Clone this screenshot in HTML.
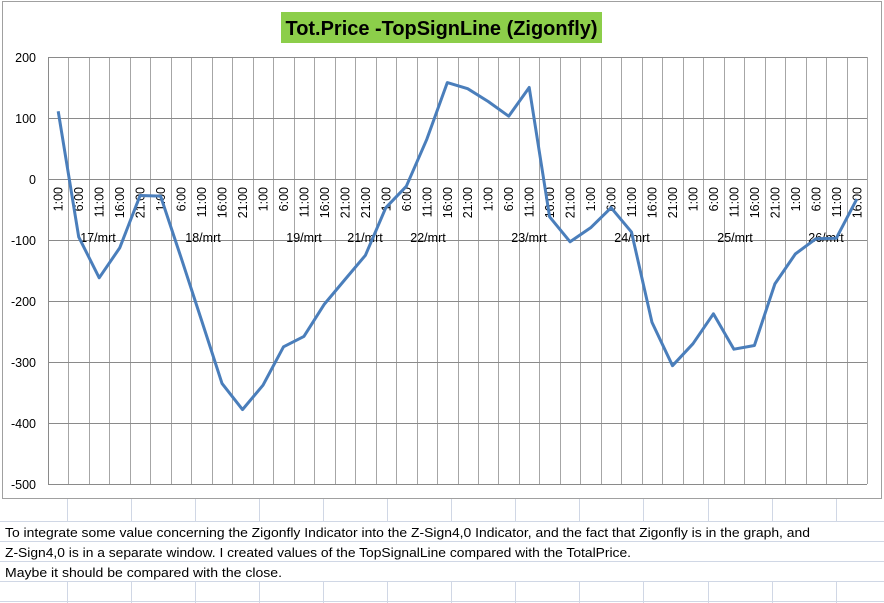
<!DOCTYPE html>
<html><head><meta charset="utf-8"><style>
html,body{margin:0;padding:0;background:#fff;}
svg{display:block;font-family:"Liberation Sans",sans-serif;}
</style></head><body>
<svg width="884" height="603" viewBox="0 0 884 603" xmlns="http://www.w3.org/2000/svg">
<g stroke="#d0d7e5" stroke-width="1">
<line x1="0" y1="521.5" x2="884" y2="521.5"/><line x1="0" y1="541.5" x2="884" y2="541.5"/>
<line x1="0" y1="561.5" x2="884" y2="561.5"/><line x1="0" y1="581.5" x2="884" y2="581.5"/>
<line x1="0" y1="601.5" x2="884" y2="601.5"/>
<line x1="67.5" y1="499" x2="67.5" y2="521"/><line x1="131.5" y1="499" x2="131.5" y2="521"/><line x1="195.5" y1="499" x2="195.5" y2="521"/><line x1="259.5" y1="499" x2="259.5" y2="521"/><line x1="323.5" y1="499" x2="323.5" y2="521"/><line x1="387.5" y1="499" x2="387.5" y2="521"/><line x1="451.5" y1="499" x2="451.5" y2="521"/><line x1="515.5" y1="499" x2="515.5" y2="521"/><line x1="579.5" y1="499" x2="579.5" y2="521"/><line x1="643.5" y1="499" x2="643.5" y2="521"/><line x1="708.5" y1="499" x2="708.5" y2="521"/><line x1="772.5" y1="499" x2="772.5" y2="521"/><line x1="836.5" y1="499" x2="836.5" y2="521"/>
<line x1="836.5" y1="581" x2="836.5" y2="603"/><line x1="772.5" y1="581" x2="772.5" y2="603"/><line x1="67.5" y1="581" x2="67.5" y2="603"/><line x1="131.5" y1="581" x2="131.5" y2="603"/><line x1="195.5" y1="581" x2="195.5" y2="603"/><line x1="259.5" y1="581" x2="259.5" y2="603"/><line x1="323.5" y1="581" x2="323.5" y2="603"/><line x1="387.5" y1="581" x2="387.5" y2="603"/><line x1="451.5" y1="581" x2="451.5" y2="603"/><line x1="515.5" y1="581" x2="515.5" y2="603"/><line x1="579.5" y1="581" x2="579.5" y2="603"/><line x1="643.5" y1="581" x2="643.5" y2="603"/><line x1="708.5" y1="581" x2="708.5" y2="603"/>
</g>
<rect x="2.5" y="1.5" width="879" height="497" fill="#fff" stroke="#a0a0a0"/>
<rect x="281" y="12" width="321" height="31" fill="#8cce4a"/>
<text x="285.5" y="35" font-size="20" font-weight="bold" fill="#000" textLength="312" lengthAdjust="spacingAndGlyphs">Tot.Price -TopSignLine (Zigonfly)</text>
<g id="vg" stroke="#a6a6a6" stroke-width="1"></g>
<g stroke="#8a8a8a" stroke-width="1">
<line x1="48" y1="57.5" x2="867" y2="57.5"/><line x1="48" y1="118.5" x2="867" y2="118.5"/>
<line x1="48" y1="179.5" x2="867" y2="179.5"/><line x1="48" y1="240.5" x2="867" y2="240.5"/>
<line x1="48" y1="301.5" x2="867" y2="301.5"/><line x1="48" y1="362.5" x2="867" y2="362.5"/>
<line x1="48" y1="423.5" x2="867" y2="423.5"/><line x1="48" y1="484.5" x2="867" y2="484.5"/>
<line x1="48.5" y1="57" x2="48.5" y2="484"/>
</g>
<g font-size="12.5" text-anchor="end" fill="#000">
<text x="36" y="62">200</text><text x="36" y="123">100</text><text x="36" y="184">0</text>
<text x="36" y="245">-100</text><text x="36" y="306">-200</text><text x="36" y="367">-300</text>
<text x="36" y="428">-400</text><text x="36" y="489">-500</text>
</g>
<g id="cl" font-size="12.5" fill="#000"></g>
<g font-size="12.5" fill="#000" text-anchor="middle">
<text x="98" y="242">17/mrt</text><text x="203" y="242">18/mrt</text><text x="304" y="242">19/mrt</text>
<text x="365" y="242">21/mrt</text><text x="428" y="242">22/mrt</text><text x="529" y="242">23/mrt</text>
<text x="632" y="242">24/mrt</text><text x="735" y="242">25/mrt</text><text x="826" y="242">26/mrt</text>
</g>
<polyline id="ln" fill="none" stroke="#4a7ebb" stroke-width="3" stroke-linejoin="round"/>
<g font-size="13" fill="#000">
<text x="5" y="537" textLength="805" lengthAdjust="spacingAndGlyphs">To integrate some value concerning the Zigonfly Indicator into the Z-Sign4,0 Indicator, and the fact that Zigonfly is in the graph, and</text>
<text x="5" y="557" textLength="626" lengthAdjust="spacingAndGlyphs">Z-Sign4,0 is in a separate window. I created values of the TopSignalLine compared with the TotalPrice.</text>
<text x="5" y="577" textLength="277" lengthAdjust="spacingAndGlyphs">Maybe it should be compared with the close.</text>
</g>
<script>
(function(){
var ns="http://www.w3.org/2000/svg",w=20.475,x0=48;
var vg=document.getElementById('vg');
for(var k=1;k<=40;k++){var l=document.createElementNS(ns,'line');var x=Math.round(x0+k*w)+0.5;l.setAttribute('x1',x);l.setAttribute('x2',x);l.setAttribute('y1',57);l.setAttribute('y2',484);vg.appendChild(l);}
var labs=["1:00","6:00","11:00","16:00","21:00","1:00","6:00","11:00","16:00","21:00","1:00","6:00","11:00","16:00","21:00","21:00","1:00","6:00","11:00","16:00","21:00","1:00","6:00","11:00","16:00","21:00","1:00","6:00","11:00","16:00","21:00","1:00","6:00","11:00","16:00","21:00","1:00","6:00","11:00","16:00"];
var cl=document.getElementById('cl');
for(var i=0;i<40;i++){var cx=x0+w/2+i*w;var t=document.createElementNS(ns,'text');t.setAttribute('transform','translate('+(cx+4.5)+',187) rotate(-90)');t.setAttribute('text-anchor','end');t.textContent=labs[i];cl.appendChild(t);}
var v=[111,-95,-162,-113,-27,-28,-129,-232,-335,-378,-338,-275,-258,-205,-165,-125,-47,-12,65,158,148,127,103,150,-62,-103,-80,-47,-87,-235,-306,-270,-221,-279,-273,-172,-123,-98,-97,-33];
var pts=[];for(var i=0;i<40;i++){pts.push((x0+w/2+i*w).toFixed(1)+','+(179-v[i]*0.61).toFixed(1));}
document.getElementById('ln').setAttribute('points',pts.join(' '));
})();
</script>
</svg>
</body></html>
